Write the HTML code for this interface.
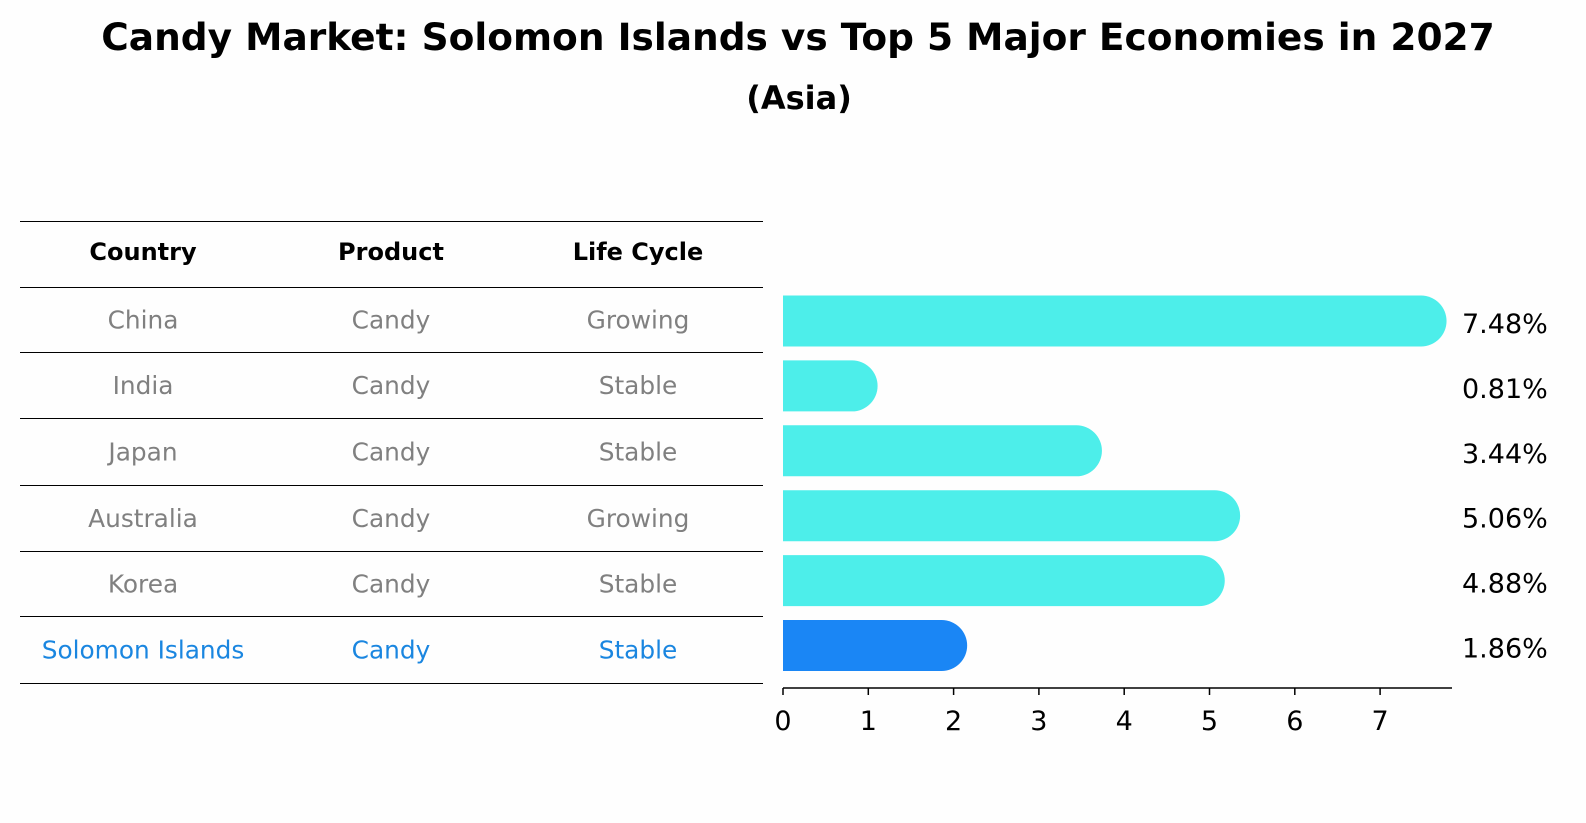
<!DOCTYPE html>
<html><head><meta charset="utf-8"><style>
body{margin:0;background:#fff;font-family:"DejaVu Sans","Liberation Sans",sans-serif;}
#root{position:relative;width:1586px;height:823px;background:#fefefe;overflow:hidden}
.t{position:absolute;white-space:nowrap;line-height:1}
</style></head><body>
<div id="root">
<div class="t" style="left:0;width:1596px;text-align:center;top:19px;font-size:37.5px;font-weight:bold">Candy Market: Solomon Islands vs Top 5 Major Economies in 2027</div>
<div class="t" style="left:0;width:1598px;text-align:center;top:82px;font-size:32px;font-weight:bold">(Asia)</div>
<svg id="svg" width="1586" height="823" style="position:absolute;left:0;top:0"></svg>
</div>
<script>
const countries=["China","India","Japan","Australia","Korea","Solomon Islands"];
const products=["Candy","Candy","Candy","Candy","Candy","Candy"];
const cycles=["Growing","Stable","Stable","Growing","Stable","Stable"];
const values=[7.48,0.81,3.44,5.06,4.88,1.86];
const ticks=[0,1,2,3,4,5,6,7];
const NS="http://www.w3.org/2000/svg";
const svg=document.getElementById('svg');
const FF='DejaVu Sans, Liberation Sans, sans-serif';
function mk(tag,attrs,txt){const e=document.createElementNS(NS,tag);for(const k in attrs)e.setAttribute(k,attrs[k]);if(txt!==undefined)e.textContent=txt;svg.appendChild(e);return e;}
const x0=783,pxu=85.3;
const xs=v=>x0+v*pxu;
const rowY=i=>321+i*64.9;
const lineYs=[221,287,352,418,485,551,616,683];
const colX=[143,391,638];
lineYs.forEach((y,i)=>{const l=mk('line',{x1:20,x2:763,y1:y+0.5,y2:y+0.5,stroke:'#000','stroke-width':1});

});
["Country","Product","Life Cycle"].forEach((h,j)=>{const t=mk('text',{x:colX[j],y:260,'text-anchor':'middle','font-size':24,'font-weight':'bold','font-family':FF},h);

});
countries.forEach((c,i)=>{
 const y=(lineYs[i+1]+lineYs[i+2])/2+9;
 const col=i===countries.length-1?'#1a86e0':'#808080';
 [c,products[i],cycles[i]].forEach((s,j)=>{const t=mk('text',{x:colX[j],y:y,'text-anchor':'middle','font-size':24.8,fill:col,'font-family':FF},s);
 
 });
 const yc=rowY(i),h=51,r=25.5;
 const xe=xs(values[i]);
 const fill=i===countries.length-1?'#1a86f5':'#4deeea';
 const p=mk('path',{d:`M${x0},${yc-h/2} L${xe},${yc-h/2} A${r},${r} 0 0 1 ${xe},${yc+h/2} L${x0},${yc+h/2} Z`,fill:fill});
 
 
 const lt=mk('text',{x:1462,y:yc+12,'font-size':27,'font-family':FF},values[i].toFixed(2)+'%');
 
 
});
const ax=mk('line',{x1:x0,x2:1452,y1:688,y2:688,stroke:'#000','stroke-width':1.5});


ticks.forEach(v=>{const l=mk('line',{x1:xs(v),x2:xs(v),y1:688,y2:695,stroke:'#000','stroke-width':1.5});


const t=mk('text',{x:xs(v),y:730,'text-anchor':'middle','font-size':27,'font-family':FF},String(v));

});
</script>
</body></html>
